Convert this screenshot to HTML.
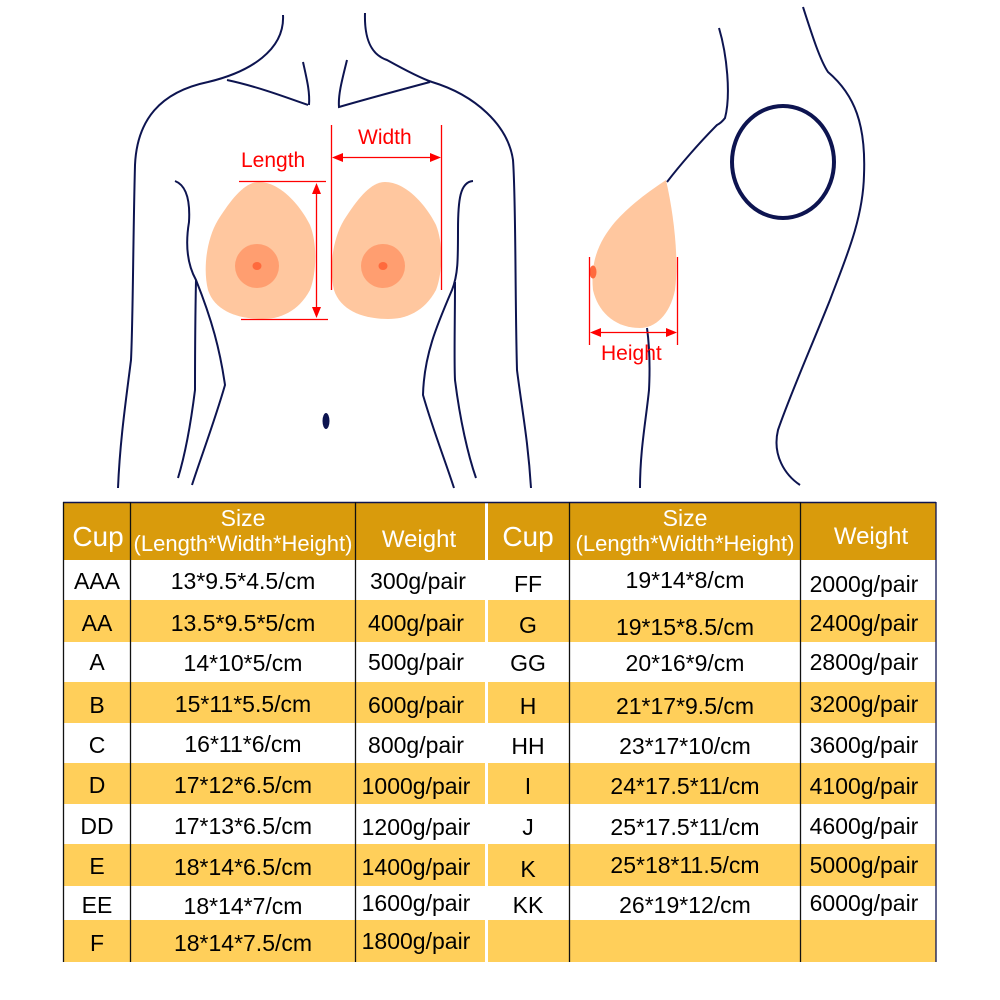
<!DOCTYPE html>
<html><head><meta charset="utf-8"><style>
body{margin:0;background:#fff;width:1000px;height:1000px;overflow:hidden;font-family:"Liberation Sans",Arial,sans-serif}
</style></head><body>
<svg width="1000" height="1000" viewBox="0 0 1000 1000" xmlns="http://www.w3.org/2000/svg" style="position:absolute;left:0;top:0">
<g fill="none" stroke="#0d1450" stroke-width="2">
<path d="M283,15 C285,50 250,72 208,82 C160,92 137,120 135,165 C133,240 133,320 131,360 C126,400 120,440 118,488"/>
<path d="M227,80 C255,86 280,95 308,105"/>
<path d="M303,62 C307,80 310,92 309,105"/>
<path d="M365,13 C364,45 375,56 387,60 C405,70 420,78 432,82 C475,95 508,125 513,160 C516,200 515,300 517,370 C522,410 528,440 531,488"/>
<path d="M347,60 C342,80 338,95 339,107 C370,98 400,90 430,82"/>
<path d="M175,181 C188,186 190,205 189,222 C186,240 186,262 196,280 C195,330 195,360 195,390 C190,430 185,455 178,478"/>
<path d="M196,280 C212,320 220,350 225,385 C215,420 200,460 192,485"/>
<path d="M473,181 C460,182 458,200 458,230 C458,260 458,275 452,290 C437,325 424,355 423,395 C433,430 445,460 454,488"/>
<path d="M455,282 C455,320 454,360 455,380 C460,420 468,455 476,478"/>
<path d="M719,28 C727,55 731,95 725,118 C722,122 719,124 717,125 C700,142 680,165 667,182"/>
<path d="M647,328 C650,350 650,370 649,390 C646,420 640,450 640,488"/>
<path d="M803,7 C812,35 820,60 828,72 C855,95 866,125 864,175 C863,220 845,260 830,300 C810,350 790,395 778,430 C772,455 785,475 800,485"/>
<ellipse cx="783" cy="162" rx="51" ry="56" stroke-width="4"/>
</g>
<ellipse cx="326" cy="421" rx="3.5" ry="8" fill="#0d1450"/>
<path d="M259,182 C280,182 300,205 310,225 C318,245 316,275 310,290 C298,312 280,319 262,319 C240,319 215,312 208,290 C203,270 206,240 218,220 C232,198 245,182 259,182Z" fill="#ffc79f"/>
<circle cx="257" cy="266" r="22" fill="#ff9e70"/><ellipse cx="257" cy="266" rx="4.5" ry="4" fill="#ff6a3d"/>
<path d="M385,182 C406,182 426,205 436,225 C444,245 442,275 436,290 C424,312 406,319 388,319 C366,319 341,312 334,290 C329,270 332,240 344,220 C358,198 371,182 385,182Z" fill="#ffc79f"/>
<circle cx="383" cy="266" r="22" fill="#ff9e70"/><ellipse cx="383" cy="266" rx="4.5" ry="4" fill="#ff6a3d"/>
<path d="M666,180 C674,215 679,260 675,290 C670,315 655,328 640,328 C615,328 598,312 593,290 C590,260 600,240 615,222 C630,205 648,192 666,180Z" fill="#ffc79f"/>
<ellipse cx="593" cy="272" rx="3.5" ry="6.5" fill="#ff6a3d"/>
<g stroke="#ff0000" stroke-width="1.3" fill="none">
<line x1="239" y1="181.5" x2="326" y2="181.5"/><line x1="241" y1="319.5" x2="328" y2="319.5"/>
<line x1="316.5" y1="190" x2="316.5" y2="310"/>
<line x1="331.5" y1="125" x2="331.5" y2="290"/><line x1="441.5" y1="125" x2="441.5" y2="290"/>
<line x1="340" y1="157.5" x2="432" y2="157.5"/>
<line x1="589.5" y1="257" x2="589.5" y2="345"/><line x1="677.5" y1="257" x2="677.5" y2="345"/>
<line x1="598" y1="332.5" x2="670" y2="332.5"/>
</g>
<g fill="#ff0000">
<path d="M316.5,183 L312,194 L321,194Z"/><path d="M316.5,318 L312,307 L321,307Z"/>
<path d="M332,157.5 L343,153 L343,162Z"/><path d="M441,157.5 L430,153 L430,162Z"/>
<path d="M590,332.5 L601,328 L601,337Z"/><path d="M677,332.5 L666,328 L666,337Z"/>
</g>
<g fill="#ff0000" font-family="Liberation Sans, Arial, sans-serif" font-size="21">
<text x="241" y="167">Length</text><text x="358" y="144">Width</text><text x="601" y="360">Height</text>
</g>
<g font-family="Liberation Sans, Arial, sans-serif">
<rect x="63" y="502" width="873" height="58" fill="#d99b0c"/>
<g fill="#ffcf5a">
<rect x="63" y="600" width="873" height="42"/><rect x="63" y="682" width="873" height="41"/>
<rect x="63" y="763" width="873" height="41"/><rect x="63" y="844" width="873" height="42"/>
<rect x="63" y="920" width="873" height="42"/>
</g>
<rect x="485" y="502" width="3" height="460" fill="#fff"/>
<line x1="63" y1="502.5" x2="936" y2="502.5" stroke="#0d1450" stroke-width="1.5"/>
<g stroke="#111" stroke-width="1.3">
<line x1="63.5" y1="502" x2="63.5" y2="962"/><line x1="130.5" y1="502" x2="130.5" y2="962"/>
<line x1="355.5" y1="502" x2="355.5" y2="962"/><line x1="569.5" y1="502" x2="569.5" y2="962"/>
<line x1="800.5" y1="502" x2="800.5" y2="962"/><line x1="936" y1="502" x2="936" y2="962" stroke="#0d1450"/>
</g>
<g fill="#fff" text-anchor="middle">
<text x="98" y="546" font-size="28">Cup</text>
<text x="243" y="526" font-size="23">Size</text>
<text x="243" y="551" font-size="22">(Length*Width*Height)</text>
<text x="419" y="547" font-size="24">Weight</text>
<text x="528" y="546" font-size="28">Cup</text>
<text x="685" y="526" font-size="23">Size</text>
<text x="685" y="551" font-size="22">(Length*Width*Height)</text>
<text x="871" y="544" font-size="24">Weight</text>
</g>
<g fill="#000" font-size="23" text-anchor="middle">
<text x="97" y="589">AAA</text><text x="243" y="589">13*9.5*4.5/cm</text><text x="418" y="589">300g/pair</text>
<text x="97" y="631">AA</text><text x="243" y="631">13.5*9.5*5/cm</text><text x="416" y="631">400g/pair</text>
<text x="97" y="670">A</text><text x="243" y="671">14*10*5/cm</text><text x="416" y="670">500g/pair</text>
<text x="97" y="713">B</text><text x="243" y="712">15*11*5.5/cm</text><text x="416" y="713">600g/pair</text>
<text x="97" y="753">C</text><text x="243" y="752">16*11*6/cm</text><text x="416" y="753">800g/pair</text>
<text x="97" y="793">D</text><text x="243" y="793">17*12*6.5/cm</text><text x="416" y="794">1000g/pair</text>
<text x="97" y="834">DD</text><text x="243" y="834">17*13*6.5/cm</text><text x="416" y="835">1200g/pair</text>
<text x="97" y="874">E</text><text x="243" y="875">18*14*6.5/cm</text><text x="416" y="875">1400g/pair</text>
<text x="97" y="913">EE</text><text x="243" y="914">18*14*7/cm</text><text x="416" y="911">1600g/pair</text>
<text x="97" y="951">F</text><text x="243" y="951">18*14*7.5/cm</text><text x="416" y="949">1800g/pair</text>

<text x="528" y="592">FF</text><text x="685" y="588">19*14*8/cm</text><text x="864" y="592">2000g/pair</text>
<text x="528" y="633">G</text><text x="685" y="635">19*15*8.5/cm</text><text x="864" y="631">2400g/pair</text>
<text x="528" y="671">GG</text><text x="685" y="671">20*16*9/cm</text><text x="864" y="670">2800g/pair</text>
<text x="528" y="714">H</text><text x="685" y="714">21*17*9.5/cm</text><text x="864" y="712">3200g/pair</text>
<text x="528" y="754">HH</text><text x="685" y="754">23*17*10/cm</text><text x="864" y="753">3600g/pair</text>
<text x="528" y="794">I</text><text x="685" y="794">24*17.5*11/cm</text><text x="864" y="794">4100g/pair</text>
<text x="528" y="835">J</text><text x="685" y="835">25*17.5*11/cm</text><text x="864" y="834">4600g/pair</text>
<text x="528" y="877">K</text><text x="685" y="873">25*18*11.5/cm</text><text x="864" y="873">5000g/pair</text>
<text x="528" y="913">KK</text><text x="685" y="913">26*19*12/cm</text><text x="864" y="911">6000g/pair</text>
</g>
</g>
</svg>
</body></html>
